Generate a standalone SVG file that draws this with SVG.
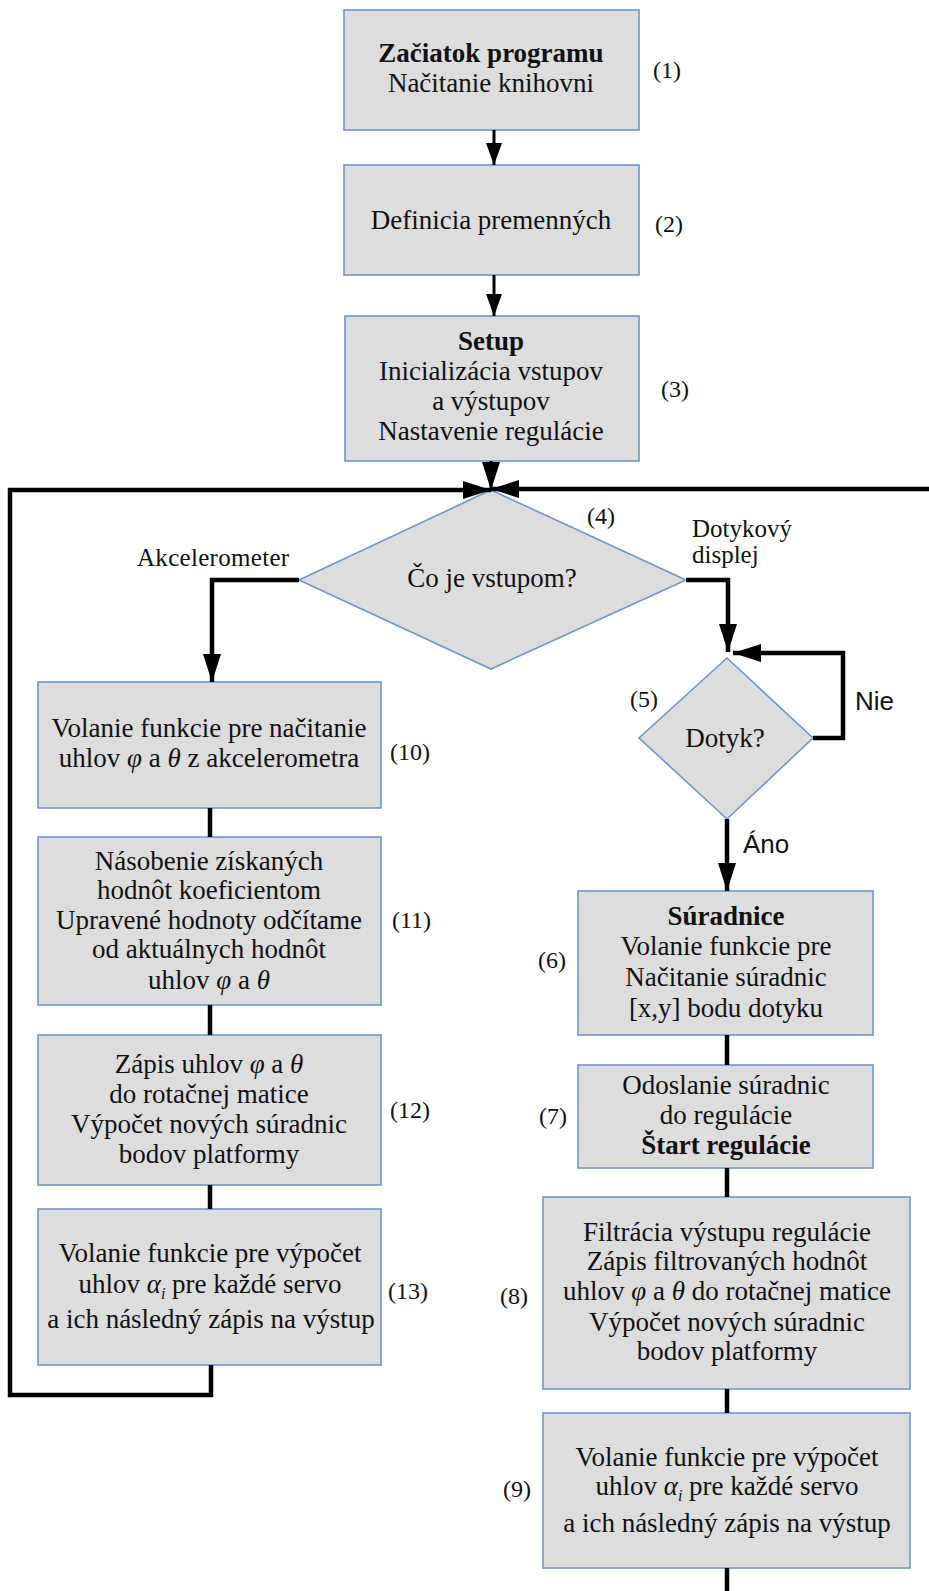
<svg xmlns="http://www.w3.org/2000/svg" width="929" height="1591" viewBox="0 0 929 1591">
<style>
  .box { fill: #dddddd; stroke: #7096c8; stroke-width: 1.6; }
  .t { font-family: "Liberation Serif", "Times New Roman", serif; font-size: 27px; fill: #111; text-anchor: middle; }
  .b { font-weight: bold; }
  .num { font-family: "Liberation Serif", "Times New Roman", serif; font-size: 24px; fill: #111; }
  .lbl { font-family: "Liberation Serif", "Times New Roman", serif; font-size: 25px; fill: #111; }
  .sans { font-family: "Liberation Sans", Arial, sans-serif; font-size: 26px; fill: #111; }
  .gi { font-style: italic; }
  .thin { fill: none; stroke: #000; stroke-width: 3; }
  .thick { fill: none; stroke: #000; stroke-width: 4.5; }
</style>
<defs>
  <marker id="ah" markerUnits="userSpaceOnUse" markerWidth="28" markerHeight="18" refX="28" refY="9" orient="auto">
    <path d="M0,0 L28,9 L0,18 z" fill="#000"/>
  </marker>
  <marker id="ahs" markerUnits="userSpaceOnUse" markerWidth="22" markerHeight="16" refX="22" refY="8" orient="auto">
    <path d="M0,0 L22,8 L0,16 z" fill="#000"/>
  </marker>
</defs>
<rect width="929" height="1591" fill="#ffffff"/>

<g id="n1">
  <rect class="box" x="344" y="10" width="295" height="120"/>
  <text class="t b" x="491" y="62">Začiatok programu</text>
  <text class="t" x="491" y="92">Načitanie knihovni</text>
  <text class="num" x="653" y="78">(1)</text>
</g>
<g id="n2">
  <rect class="box" x="344" y="165" width="295" height="110"/>
  <text class="t" x="491" y="229">Definicia premenných</text>
  <text class="num" x="655" y="232">(2)</text>
</g>
<g id="n3">
  <rect class="box" x="345" y="316" width="294" height="145"/>
  <text class="t b" x="491" y="350">Setup</text>
  <text class="t" x="491" y="380">Inicializácia vstupov</text>
  <text class="t" x="491" y="410">a výstupov</text>
  <text class="t" x="491" y="440">Nastavenie regulácie</text>
  <text class="num" x="661" y="397">(3)</text>
</g>
<g id="n4">
  <polygon class="box" points="491,490 686,580 491,669 299,580"/>
  <text class="t" x="492" y="587">Čo je vstupom?</text>
  <text class="num" x="587" y="524">(4)</text>
</g>
<g id="n5">
  <polygon class="box" points="727,658 813,738 727,819 639,738"/>
  <text class="t" x="725" y="747">Dotyk?</text>
  <text class="num" x="630" y="707">(5)</text>
</g>
<g id="n6">
  <rect class="box" x="578" y="891" width="295" height="144"/>
  <text class="t b" x="726" y="925">Súradnice</text>
  <text class="t" x="726" y="955">Volanie funkcie pre</text>
  <text class="t" x="726" y="986">Načitanie súradnic</text>
  <text class="t" x="726" y="1017">[x,y] bodu dotyku</text>
  <text class="num" x="538" y="968">(6)</text>
</g>
<g id="n7">
  <rect class="box" x="578" y="1065" width="295" height="103"/>
  <text class="t" x="726" y="1094">Odoslanie súradnic</text>
  <text class="t" x="726" y="1124">do regulácie</text>
  <text class="t b" x="726" y="1154">Štart regulácie</text>
  <text class="num" x="539" y="1124">(7)</text>
</g>
<g id="n8">
  <rect class="box" x="543" y="1197" width="367" height="192"/>
  <text class="t" x="727" y="1241">Filtrácia výstupu regulácie</text>
  <text class="t" x="727" y="1270">Zápis filtrovaných hodnôt</text>
  <text class="t" x="727" y="1300">uhlov <tspan class="gi">φ</tspan> a <tspan class="gi">θ</tspan> do rotačnej matice</text>
  <text class="t" x="727" y="1331">Výpočet nových súradnic</text>
  <text class="t" x="727" y="1360">bodov platformy</text>
  <text class="num" x="500" y="1304">(8)</text>
</g>
<g id="n9">
  <rect class="box" x="543" y="1413" width="367" height="155"/>
  <text class="t" x="727" y="1466">Volanie funkcie pre výpočet</text>
  <text class="t" x="727" y="1495">uhlov <tspan class="gi">α</tspan><tspan class="gi" font-size="16" dy="6">i</tspan><tspan dy="-6"> pre každé servo</tspan></text>
  <text class="t" x="727" y="1532">a ich následný zápis na výstup</text>
  <text class="num" x="503" y="1497">(9)</text>
</g>
<g id="n10">
  <rect class="box" x="38" y="682" width="343" height="126"/>
  <text class="t" x="209" y="737">Volanie funkcie pre načitanie</text>
  <text class="t" x="209" y="767">uhlov <tspan class="gi">φ</tspan> a <tspan class="gi">θ</tspan> z akcelerometra</text>
  <text class="num" x="390" y="760">(10)</text>
</g>
<g id="n11">
  <rect class="box" x="38" y="837" width="343" height="168"/>
  <text class="t" x="209" y="870">Násobenie získaných</text>
  <text class="t" x="209" y="899">hodnôt koeficientom</text>
  <text class="t" x="209" y="929">Upravené hodnoty odčítame</text>
  <text class="t" x="209" y="958">od aktuálnych hodnôt</text>
  <text class="t" x="209" y="989">uhlov <tspan class="gi">φ</tspan> a <tspan class="gi">θ</tspan></text>
  <text class="num" x="392" y="928">(11)</text>
</g>
<g id="n12">
  <rect class="box" x="38" y="1035" width="343" height="150"/>
  <text class="t" x="209" y="1073">Zápis uhlov <tspan class="gi">φ</tspan> a <tspan class="gi">θ</tspan></text>
  <text class="t" x="209" y="1103">do rotačnej matice</text>
  <text class="t" x="209" y="1133">Výpočet nových súradnic</text>
  <text class="t" x="209" y="1163">bodov platformy</text>
  <text class="num" x="390" y="1118">(12)</text>
</g>
<g id="n13">
  <rect class="box" x="38" y="1209" width="343" height="156"/>
  <text class="t" x="210" y="1262">Volanie funkcie pre výpočet</text>
  <text class="t" x="210" y="1293">uhlov <tspan class="gi">α</tspan><tspan class="gi" font-size="16" dy="6">i</tspan><tspan dy="-6"> pre každé servo</tspan></text>
  <text class="t" x="211" y="1328">a ich následný zápis na výstup</text>
  <text class="num" x="388" y="1299">(13)</text>
</g>

<g id="connectors">
  <path class="thin" d="M494,130 V165" marker-end="url(#ahs)"/>
  <path class="thin" d="M494,275 V316" marker-end="url(#ahs)"/>
  <path class="thin" d="M491,461 V490" marker-end="url(#ah)"/>
  <path class="thick" d="M211,1365 V1395 H10 V490 H491" marker-end="url(#ah)"/>
  <path class="thick" d="M929,489 H491" marker-end="url(#ah)"/>
  <path class="thick" d="M299,580 H212 V682" marker-end="url(#ah)"/>
  <path class="thick" d="M686,580 H728 V652" marker-end="url(#ah)"/>
  <path class="thick" d="M813,738 H843 V653 H733" marker-end="url(#ah)"/>
  <path class="thick" d="M727,819 V891" marker-end="url(#ah)"/>
  <path class="thick" d="M727,1035 V1065"/>
  <path class="thick" d="M727,1168 V1197"/>
  <path class="thick" d="M727,1389 V1413"/>
  <path class="thick" d="M727,1568 V1591"/>
  <path class="thick" d="M210,808 V837"/>
  <path class="thick" d="M210,1005 V1035"/>
  <path class="thick" d="M210,1185 V1209"/>
  <text class="lbl" x="137" y="566" letter-spacing="0.3">Akcelerometer</text>
  <text class="lbl" x="692" y="537">Dotykový</text>
  <text class="lbl" x="692" y="563">displej</text>
  <text class="sans" x="855" y="710">Nie</text>
  <text class="sans" x="743" y="853">Áno</text>
</g>
</svg>
